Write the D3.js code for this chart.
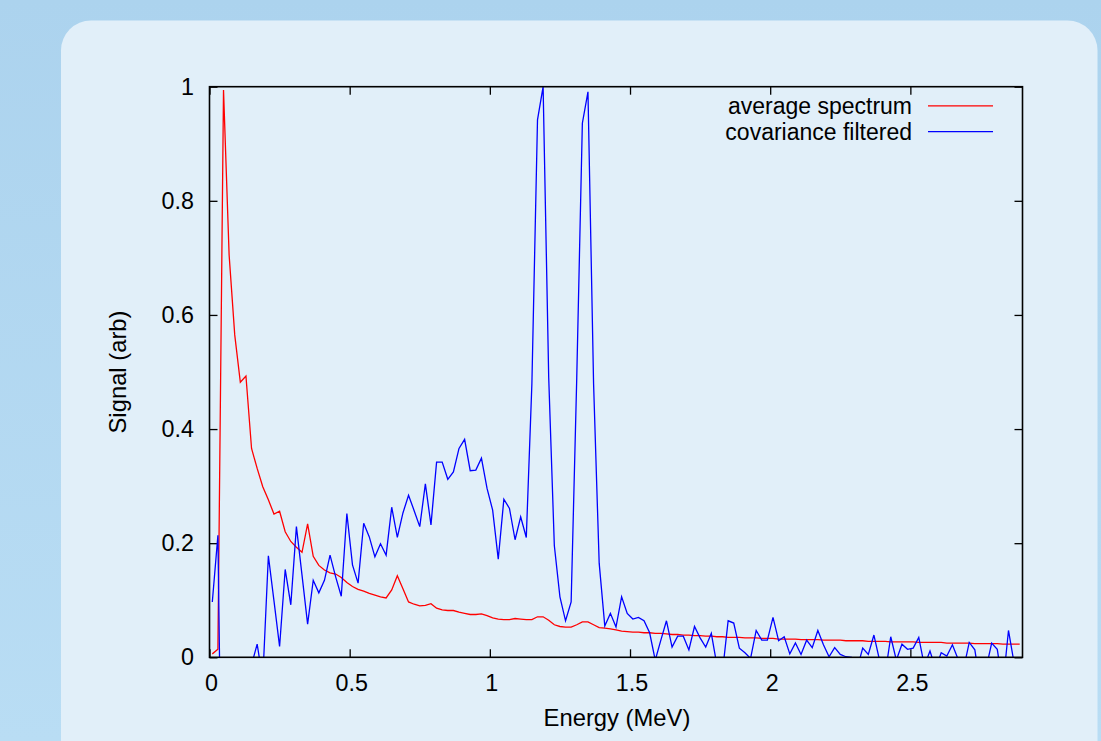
<!DOCTYPE html>
<html>
<head>
<meta charset="utf-8">
<script src="https://cdn.jsdelivr.net/npm/d3@7"></script>
<style>
  html, body { margin: 0; padding: 0; background: #b3d8f1; }
  svg { display: block; }
  text { font-family: "Liberation Sans", Arial, Helvetica, sans-serif; fill: #000; }
</style>
</head>
<body>
<svg id="chart" width="1101" height="741"></svg>
<script>
// ---- data (bin centres in MeV) ----
const energy = [
  0.01,0.03,0.05,0.07,0.09,0.11,0.13,0.15,0.17,0.19,
  0.21,0.23,0.25,0.27,0.29,0.31,0.33,0.35,0.37,0.39,
  0.41,0.43,0.45,0.47,0.49,0.51,0.53,0.55,0.57,0.59,
  0.61,0.63,0.65,0.67,0.69,0.71,0.73,0.75,0.77,0.79,
  0.81,0.83,0.85,0.87,0.89,0.91,0.93,0.95,0.97,0.99,
  1.01,1.03,1.05,1.07,1.09,1.11,1.13,1.15,1.17,1.19,
  1.21,1.23,1.25,1.27,1.29,1.31,1.33,1.35,1.37,1.39,
  1.41,1.43,1.45,1.47,1.49,1.51,1.53,1.55,1.57,1.59,
  1.61,1.63,1.65,1.67,1.69,1.71,1.73,1.75,1.77,1.79,
  1.81,1.83,1.85,1.87,1.89,1.91,1.93,1.95,1.97,1.99,
  2.01,2.03,2.05,2.07,2.09,2.11,2.13,2.15,2.17,2.19,
  2.21,2.23,2.25,2.27,2.29,2.31,2.33,2.35,2.37,2.39,
  2.41,2.43,2.45,2.47,2.49,2.51,2.53,2.55,2.57,2.59,
  2.61,2.63,2.65,2.67,2.69,2.71,2.73,2.75,2.77,2.79,
  2.81,2.83,2.85,2.87,2.89
];

const averageSpectrum = [
  0.006,0.014,0.994,0.705,0.565,0.482,0.493,0.366,0.331,0.299,
  0.276,0.251,0.256,0.220,0.203,0.193,0.184,0.234,0.177,0.161,
  0.153,0.148,0.146,0.140,0.131,0.124,0.119,0.116,0.112,0.109,
  0.106,0.104,0.118,0.143,0.120,0.097,0.093,0.090,0.091,0.094,
  0.086,0.083,0.082,0.082,0.079,0.077,0.075,0.075,0.076,0.073,
  0.069,0.067,0.066,0.066,0.068,0.067,0.066,0.066,0.071,0.071,
  0.065,0.057,0.054,0.053,0.053,0.057,0.062,0.062,0.057,0.052,
  0.051,0.050,0.048,0.046,0.045,0.044,0.044,0.043,0.043,0.042,
  0.042,0.041,0.040,0.040,0.039,0.039,0.038,0.038,0.037,0.037,
  0.036,0.036,0.035,0.035,0.035,0.034,0.034,0.034,0.033,0.033,
  0.033,0.032,0.032,0.032,0.032,0.031,0.031,0.031,0.031,0.030,
  0.030,0.030,0.030,0.029,0.029,0.029,0.029,0.028,0.028,0.028,
  0.028,0.027,0.027,0.027,0.027,0.027,0.026,0.026,0.026,0.026,
  0.026,0.025,0.025,0.025,0.025,0.025,0.024,0.024,0.024,0.024,
  0.024,0.023,0.023,0.023,0.023
];

const covarianceFiltered = [
  0.097,0.214,-0.53,-0.30,-0.15,-0.10,-0.06,-0.013,0.023,-0.039,
  0.178,0.099,0.019,0.154,0.092,0.229,0.144,0.058,0.135,0.113,
  0.135,0.179,0.141,0.107,0.252,0.162,0.130,0.235,0.211,0.176,
  0.199,0.179,0.263,0.210,0.253,0.284,0.257,0.229,0.304,0.232,
  0.342,0.342,0.312,0.325,0.366,0.382,0.327,0.328,0.349,0.296,
  0.258,0.172,0.277,0.261,0.206,0.246,0.210,0.480,0.942,1.000,
  0.490,0.196,0.106,0.064,0.097,0.490,0.936,0.991,0.480,0.165,
  0.055,0.077,0.053,0.106,0.077,0.067,0.070,0.064,0.043,-0.005,
  0.030,0.064,0.018,0.037,0.037,0.013,0.054,0.034,0.018,0.042,
  -0.014,-0.025,0.064,0.060,0.016,0.008,-0.002,0.047,0.030,0.030,
  0.070,0.029,0.036,0.006,0.025,0.005,0.030,0.017,0.047,0.022,
  0.001,0.017,0.005,0.001,0.000,-0.020,0.016,0.005,0.039,-0.005,
  -0.030,0.036,-0.005,0.023,0.014,0.016,0.035,-0.015,0.011,-0.020,
  0.008,0.002,0.022,-0.003,-0.020,0.026,0.013,-0.050,-0.020,0.025,
  0.014,-0.050,0.047,-0.010,-0.020
];

const xTickValues = [0, 0.5, 1, 1.5, 2, 2.5];
const xTickLabels = ["0", "0.5", "1", "1.5", "2", "2.5"];
const yTickValues = [0, 0.2, 0.4, 0.6, 0.8, 1];
const yTickLabels = ["0", "0.2", "0.4", "0.6", "0.8", "1"];

const seriesNames = ["average spectrum", "covariance filtered"];
const seriesColors = ["#ff0000", "#0000ff"];
const xLabel = "Energy (MeV)";
const yLabel = "Signal (arb)";

// ---- layout ----
const W = 1101, H = 741;
const plot = { left: 209.5, top: 86.7, right: 1022.5, bottom: 657.3 };
const TICK_FONT = 23.3;
const LABEL_FONT = 23.8;
const LEGEND_FONT = 23;

const svg = d3.select("#chart");

// background
const defs = svg.append("defs");
const bg = defs.append("linearGradient").attr("id", "bgGrad")
  .attr("x1", 0).attr("y1", 0).attr("x2", 0).attr("y2", 1);
bg.append("stop").attr("offset", "0%").attr("stop-color", "#acd3ee");
bg.append("stop").attr("offset", "100%").attr("stop-color", "#b9ddf4");
svg.append("rect").attr("width", W).attr("height", H).attr("fill", "url(#bgGrad)");
svg.append("rect")
  .attr("x", 61).attr("y", 20.5).attr("width", 1036.5).attr("height", H + 60)
  .attr("rx", 30).attr("ry", 30)
  .attr("fill", "#e1eff9");

defs.append("clipPath").attr("id", "plotClip")
  .append("rect")
  .attr("x", plot.left).attr("y", plot.top)
  .attr("width", plot.right - plot.left).attr("height", plot.bottom - plot.top);

// scales
const x = d3.scaleLinear().domain([0, 2.9]).range([plot.left, plot.right]);
const y = d3.scaleLinear().domain([0, 1]).range([plot.bottom, plot.top]);

// axes
const axisFont = g => g.selectAll("text")
  .style("font-family", '"Liberation Sans", Arial, Helvetica, sans-serif')
  .style("font-size", TICK_FONT + "px").attr("fill", "#000");

const gx = svg.append("g").attr("transform", `translate(0,${plot.bottom})`)
  .call(d3.axisBottom(x).tickValues(xTickValues)
    .tickFormat((d, i) => xTickLabels[i]).tickSize(-8).tickSizeOuter(0).tickPadding(17));
gx.call(axisFont);
gx.selectAll(".tick text").attr("dx", 1.5);
const gxTop = svg.append("g").attr("transform", `translate(0,${plot.top})`)
  .call(d3.axisTop(x).tickValues(xTickValues).tickFormat("").tickSize(-8).tickSizeOuter(0));
const gy = svg.append("g").attr("transform", `translate(${plot.left},0)`)
  .call(d3.axisLeft(y).tickValues(yTickValues)
    .tickFormat((d, i) => yTickLabels[i]).tickSize(-8).tickSizeOuter(0).tickPadding(15.5));
gy.call(axisFont);
const gyRight = svg.append("g").attr("transform", `translate(${plot.right},0)`)
  .call(d3.axisRight(y).tickValues(yTickValues).tickFormat("").tickSize(-8).tickSizeOuter(0));

[gx, gxTop, gy, gyRight].forEach(g => {
  g.select(".domain").remove();
  g.selectAll(".tick line").attr("stroke", "#000").attr("stroke-width", 1.3);
});

// data lines
const seriesList = [averageSpectrum, covarianceFiltered];
const lineGen = d3.line().x((d, i) => x(energy[i])).y(d => y(d));
const lines = svg.append("g").attr("clip-path", "url(#plotClip)");
seriesList.forEach((s, i) => {
  lines.append("path").datum(s)
    .attr("d", lineGen)
    .attr("fill", "none")
    .attr("stroke", seriesColors[i])
    .attr("stroke-width", 1.3)
    .attr("stroke-linejoin", "miter");
});

// frame
svg.append("rect")
  .attr("x", plot.left).attr("y", plot.top)
  .attr("width", plot.right - plot.left).attr("height", plot.bottom - plot.top)
  .attr("fill", "none").attr("stroke", "#000").attr("stroke-width", 1.6);

// axis titles
svg.append("text")
  .attr("x", 617).attr("y", 726)
  .attr("text-anchor", "middle").style("font-size", LABEL_FONT + "px")
  .text(xLabel);
svg.append("text")
  .attr("transform", `translate(126,${(plot.top + plot.bottom) / 2}) rotate(-90)`)
  .attr("text-anchor", "middle").style("font-size", LABEL_FONT + "px")
  .text(yLabel);

// legend
const legend = svg.append("g");
seriesNames.forEach((name, i) => {
  const ly = 105.8 + i * 25.8;
  legend.append("text")
    .attr("x", 912).attr("y", ly).attr("dy", "0.35em")
    .attr("text-anchor", "end").style("font-size", LEGEND_FONT + "px")
    .text(name);
  legend.append("line")
    .attr("x1", 928).attr("x2", 993).attr("y1", ly).attr("y2", ly)
    .attr("stroke", seriesColors[i]).attr("stroke-width", 1.3);
});
</script>
</body>
</html>
